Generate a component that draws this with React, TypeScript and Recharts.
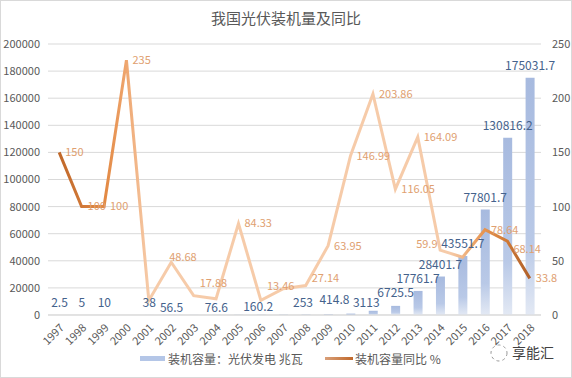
import React from 'react';
import { ComposedChart, Bar, Line, XAxis, YAxis, CartesianGrid, LabelList } from 'recharts';

const years = ['1997','1998','1999','2000','2001','2002','2003','2004','2005','2006','2007','2008','2009','2010','2011','2012','2013','2014','2015','2016','2017','2018'];
const capacity = [2.5,5,10,33.5,38,56.5,66.6,76.6,141.2,160.2,199,253,414.8,1024.5,3113,6725.5,17761.7,28401.7,43551.7,77801.7,130816.2,175031.7];
const capacityLabels = ['2.5','5','10','','38','56.5','','76.6','','160.2','','253','414.8','','3113','6725.5','17761.7','28401.7','43551.7','77801.7','130816.2','175031.7'];
const growth = [150,100,100,235,13.4,48.68,17.88,15,84.33,13.46,24.2,27.14,63.95,146.99,203.86,116.05,164.09,59.9,53.34,78.64,68.14,33.8];
const growthLabels = ['150','100','100','235','','48.68','17.88','','84.33','13.46','','27.14','63.95','146.99','203.86','116.05','164.09','59.9','','78.64','68.14','33.8'];
const leftTicks = [0,20000,40000,60000,80000,100000,120000,140000,160000,180000,200000];
const rightTicks = [0,50,100,150,200,250];

const title = '我国光伏装机量及同比';
const barName = '装机容量：光伏发电 兆瓦';
const lineName = '装机容量同比 %';
const watermark = '享能汇';

const data = years.map((y, i) => ({
  year: y,
  cap: capacity[i],
  capLabel: capacityLabels[i],
  growth: growth[i],
  growthLabel: growthLabels[i],
}));

const FONT = '"Noto Sans CJK SC", "Noto Sans", sans-serif';
const AXIS = '#595959';

// label nudges (styling only): [dx, dy] per category index
const lineNudge: Record<number, [number, number]> = {
  5: [-8, -5],
  6: [0, -12],
  9: [0, -14],
  11: [0, -7],
  17: [-30, -6],
  20: [0, 8],
};
const barNudge: Record<number, [number, number]> = {
  5: [0, 5],
  7: [0, 5],
  9: [-3, 4],
  11: [-3, 0],
  12: [6, -2],
  14: [-7, 4],
  15: [0, -1],
};

const GrowthLabel = (props: any) => {
  const { x, y, value, index } = props;
  if (!value) return null;
  const [dx, dy] = lineNudge[index] || [0, 0];
  return (
    <text x={x + 6 + dx} y={y + dy} dy="0.35em" fill="#e0a070" fontSize={11} textAnchor="start" style={{ fontFamily: FONT }}>
      {value}
    </text>
  );
};

const CapLabel = (props: any) => {
  const { x, y, width, value, index } = props;
  if (!value) return null;
  const [dx, dy] = barNudge[index] || [0, 0];
  return (
    <text x={x + width / 2 + dx} y={y - 8 + dy} fill="#44628c" fontSize={12} textAnchor="middle" style={{ fontFamily: FONT }}>
      {value}
    </text>
  );
};

export default function App() {
  return (
    <div style={{ position: 'absolute', left: 0, top: 0, width: 572, height: 378, background: '#fff', fontFamily: FONT, overflow: 'hidden' }}>
      <div style={{ position: 'absolute', left: 0, top: 0, width: 572, height: 378, border: '1px solid #d9d9d9', boxSizing: 'border-box' }} />
      <div style={{ position: 'absolute', left: 0, top: 8, width: 572, textAlign: 'center', fontSize: 15, color: AXIS, lineHeight: '20px' }}>{title}</div>
      <div style={{ position: 'absolute', left: 0, top: 0 }}>
        <ComposedChart width={572} height={378} data={data} margin={{ top: 44, right: 0, bottom: 0, left: 0 }} style={{ fontFamily: FONT }}>
          <defs>
            <linearGradient id="barGrad" x1="0" y1="0" x2="0" y2="1">
              <stop offset="0" stopColor="#a7badf" />
              <stop offset="0.7" stopColor="#b9c9e7" />
              <stop offset="1" stopColor="#e3e9f4" />
            </linearGradient>
            <linearGradient id="lineGrad" x1="0" y1="0" x2="1" y2="0">
              <stop offset="0" stopColor="#c0682a" />
              <stop offset="0.1" stopColor="#e38a45" />
              <stop offset="0.14" stopColor="#eea46c" />
              <stop offset="0.19" stopColor="#f6cba9" />
              <stop offset="0.83" stopColor="#f6cba9" />
              <stop offset="0.9" stopColor="#e79652" />
              <stop offset="0.95" stopColor="#d07a36" />
              <stop offset="1" stopColor="#b0612a" />
            </linearGradient>
          </defs>
          <CartesianGrid yAxisId="left" vertical={false} stroke="#d9d9d9" />
          <XAxis dataKey="year" height={63} interval={0} angle={-45} textAnchor="end" tickLine={false} axisLine={{ stroke: '#d9d9d9' }} tick={{ fontSize: 11, fill: AXIS }} />
          <YAxis yAxisId="left" width={48} domain={[0, 200000]} ticks={leftTicks} axisLine={false} tickLine={false} tick={{ fontSize: 11, fill: AXIS }} />
          <YAxis yAxisId="right" orientation="right" width={31} domain={[0, 250]} ticks={rightTicks} axisLine={false} tickLine={false} tickMargin={5} tick={{ fontSize: 11, fill: AXIS }} />
          <Bar yAxisId="left" dataKey="cap" barSize={9} fill="url(#barGrad)" isAnimationActive={false}>
            <LabelList dataKey="capLabel" content={CapLabel} />
          </Bar>
          <Line yAxisId="right" dataKey="growth" stroke="url(#lineGrad)" strokeWidth={3} dot={false} activeDot={false} isAnimationActive={false}>
            <LabelList dataKey="growthLabel" content={GrowthLabel} />
          </Line>
        </ComposedChart>
      </div>
      <div style={{ position: 'absolute', left: 140, top: 350, display: 'flex', alignItems: 'center', fontSize: 12, color: AXIS, whiteSpace: 'nowrap' }}>
        <span style={{ display: 'inline-block', width: 25, height: 5, background: '#b4c6e7', marginRight: 3 }} />
        <span>{barName}</span>
      </div>
      <div style={{ position: 'absolute', left: 325, top: 350, display: 'flex', alignItems: 'center', fontSize: 12, color: AXIS, whiteSpace: 'nowrap' }}>
        <span style={{ display: 'inline-block', width: 28, height: 3, background: 'linear-gradient(90deg, #d9a07a, #c0682a)', marginRight: 2 }} />
        <span>{lineName}</span>
      </div>
      <svg style={{ position: 'absolute', left: 488, top: 342 }} width={22} height={22}>
        <circle cx={11} cy={11} r={8} fill="none" stroke="#999" strokeWidth={1} strokeDasharray="3 3" />
      </svg>
      <div style={{ position: 'absolute', left: 512, top: 342, fontSize: 14, color: '#404040', whiteSpace: 'nowrap' }}>{watermark}</div>
    </div>
  );
}
